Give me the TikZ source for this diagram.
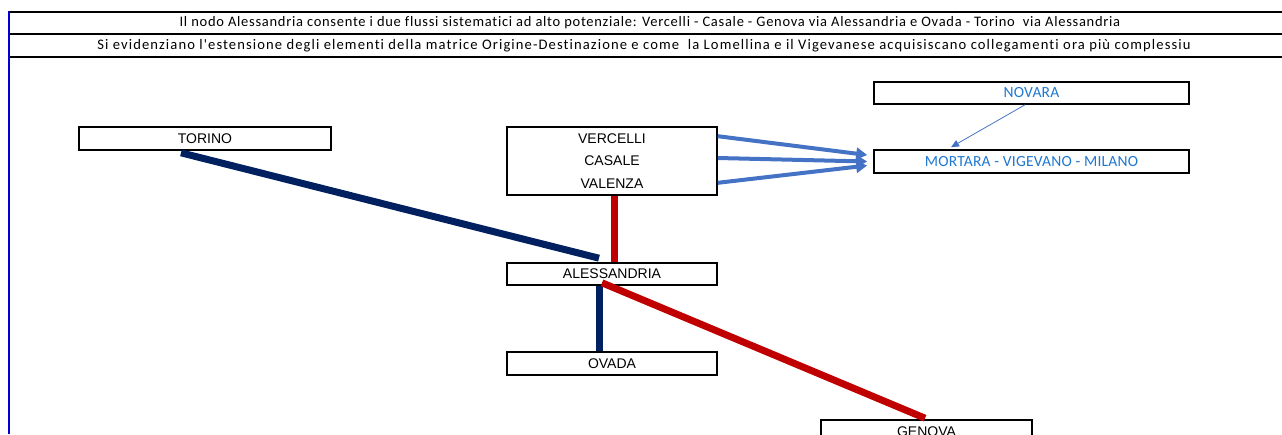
\documentclass[tikz,border=0pt]{standalone}
\usepackage{fontspec}
\setmainfont{Liberation Sans}
\newfontfamily\calfont[Ligatures=NoCommon,LetterSpace=5]{Carlito}
\newfontfamily\calwidefont[Ligatures=NoCommon,LetterSpace=7.5]{Carlito}
\newfontfamily\calbluefont[Ligatures=NoCommon,LetterSpace=1.5]{Carlito}
\usetikzlibrary{arrows.meta,calc}
\definecolor{navyline}{HTML}{002060}
\definecolor{redline}{HTML}{C00000}
\definecolor{arrowblue}{HTML}{4472C4}
\definecolor{textblue}{HTML}{1F78D1}
\definecolor{edgeblue}{HTML}{0000D0}
\begin{document}
\begin{tikzpicture}[x=1pt,y=-1pt,
  box/.style={draw=black, fill=white, line width=1.6pt, inner sep=0pt, font=\fontsize{14}{22.5}\selectfont},
  bluebox/.style={box, text=textblue, font=\calbluefont\fontsize{15.5}{17}\selectfont},
  headtext/.style={inner sep=0pt, font=\calfont\fontsize{14.5}{16}\selectfont},
  headwide/.style={inner sep=0pt, font=\calwidefont\fontsize{14.6}{16}\selectfont},
  headrule/.style={line width=2.4pt, black},
  navylink/.style={line width=7pt, navyline},
  redlink/.style={line width=7pt, redline},
  bigarrow/.style={line width=4pt, arrowblue, -{Triangle[length=11pt,width=12pt]}},
  thinarrow/.style={line width=0.8pt, arrowblue, -{Triangle[length=8pt,width=7pt]}}
]
\useasboundingbox (0,0) rectangle (1282,434);
% header
\draw[headrule] (8,12) -- (1282,12);
\draw[headrule] (8,34) -- (1282,34);
\draw[headrule] (8,57) -- (1282,57);
\draw[line width=2.4pt, edgeblue] (9,11) -- (9,434);
\node[headtext] (h1) at (650,23) {Il nodo Alessandria consente i due flussi sistematici ad alto potenziale: Vercelli - Casale - Genova via Alessandria e Ovada - Torino \ via Alessandria};
\node[headwide] (h2) at (644,46) {Si evidenziano l'estensione degli elementi della matrice Origine-Destinazione e come \ la Lomellina e il Vigevanese acquisiscano collegamenti ora più complessiu};
% boxes
\node[box, minimum width=252pt, minimum height=23pt] (torino) at (205,138.5) {TORINO};
\node[box, minimum width=210pt, minimum height=68pt, align=center] (vercelli) at (612,161) {VERCELLI\\CASALE\\VALENZA};
\node[bluebox, minimum width=315pt, minimum height=22pt] (novara) at (1031.5,93) {NOVARA};
\node[bluebox, minimum width=315pt, minimum height=23pt] (mortara) at (1031.5,161.5) {MORTARA - VIGEVANO - MILANO};
\node[box, minimum width=210pt, minimum height=22pt] (aless) at (612,274) {ALESSANDRIA};
\node[box, minimum width=210pt, minimum height=23pt] (ovada) at (612,363.5) {OVADA};
\node[box, minimum width=211pt, minimum height=23pt] (genova) at (926.5,431.5) {GENOVA};
% links
\draw[navylink] ([xshift=-24pt,yshift=-2pt]torino.south) -- ([xshift=-13pt,yshift=4pt]aless.north);
\draw[redlink] ([xshift=2pt]vercelli.south) -- ([xshift=2pt]aless.north);
\draw[navylink] ([xshift=-13pt]aless.south) -- ([xshift=-13pt]ovada.north);
\draw[redlink] ([xshift=-10pt,yshift=3pt]aless.south) -- ([xshift=-1.5pt,yshift=1pt]genova.north);
\draw[bigarrow] ([yshift=-10pt]vercelli.north east) -- ([xshift=-6pt,yshift=6.5pt]mortara.west);
\draw[bigarrow] ([yshift=3pt]vercelli.east) -- ([xshift=-6pt,yshift=0pt]mortara.west);
\draw[bigarrow] ([yshift=13pt]vercelli.south east) -- ([xshift=-6pt,yshift=-4pt]mortara.west);
\draw[thinarrow] ([xshift=-6.5pt]novara.south) -- ([xshift=-80.5pt,yshift=2pt]mortara.north);
\end{tikzpicture}
\end{document}
